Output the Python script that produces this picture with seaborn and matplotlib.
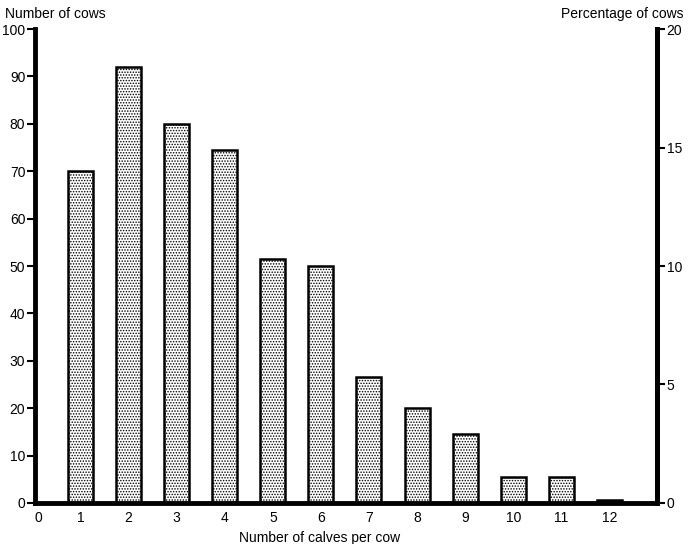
import matplotlib
matplotlib.use('Agg')
import matplotlib.pyplot as plt
import seaborn as sns
import pandas as pd

# Dữ liệu
calves = [1, 2, 3, 4, 5, 6, 7, 8, 9, 10, 11, 12]
cows = [70, 92, 80, 74.5, 51.5, 50, 26.5, 20, 14.5, 5.4, 5.4, 0.7]
left_ticks = [0, 10, 20, 30, 40, 50, 60, 70, 80, 90, 100]
right_ticks = [0, 5, 10, 15, 20]
x_labels = ['0'] + [str(c) for c in calves]

data = pd.DataFrame({'calves': calves, 'cows': cows})

sns.set_style('white')
plt.rcParams['font.family'] = ['Liberation Sans', 'DejaVu Sans']
plt.rcParams['hatch.linewidth'] = 0.7
plt.rcParams['text.color'] = 'black'
plt.rcParams['xtick.color'] = 'black'
plt.rcParams['ytick.color'] = 'black'
plt.rcParams['axes.edgecolor'] = 'black'
plt.rcParams['axes.labelcolor'] = 'black'

fig = plt.figure(figsize=(6.9, 5.44), dpi=100)
ax = fig.add_axes([0.0507, 0.0755, 0.9015, 0.871])

sns.barplot(data=data, x='calves', y='cows', native_scale=True, width=0.52,
            color='white', edgecolor='black', linewidth=1.8, hatch='......',
            errorbar=None, ax=ax)

ax.set_xlim(0.054, 12.99)
ax.set_ylim(0, 100)
ax.set_yticks(left_ticks)
# "0" của trục x đặt sát trục trái
ax.set_xticks([0.12] + calves)
ax.set_xticklabels(x_labels)
ax.tick_params(axis='y', direction='out', length=6, width=1.5, labelsize=10, pad=1, left=True)
ax.tick_params(axis='x', length=0, labelsize=10, pad=6)
ax.set_xlabel('Number of calves per cow', fontsize=10, labelpad=3)
ax.xaxis.set_label_coords(0.458, -0.06)
ax.set_ylabel('')

for side in ['left', 'bottom', 'right']:
    ax.spines[side].set_linewidth(3.5)
    ax.spines[side].set_color('black')
ax.spines['top'].set_visible(False)

ax2 = ax.twinx()
ax2.set_ylim(0, 20)
ax2.set_yticks(right_ticks)
ax2.tick_params(axis='y', direction='out', length=6, width=1.5, labelsize=10, pad=1, right=True)
ax2.spines['top'].set_visible(False)
ax2.spines['left'].set_visible(False)
ax2.spines['bottom'].set_visible(False)
ax2.spines['right'].set_linewidth(3.5)
ax2.spines['right'].set_color('black')

fig.text(0.007, 0.975, 'Number of cows', fontsize=10, ha='left', va='center')
fig.text(0.99, 0.975, 'Percentage of cows', fontsize=10, ha='right', va='center')

plt.savefig('out.png', dpi=100)
